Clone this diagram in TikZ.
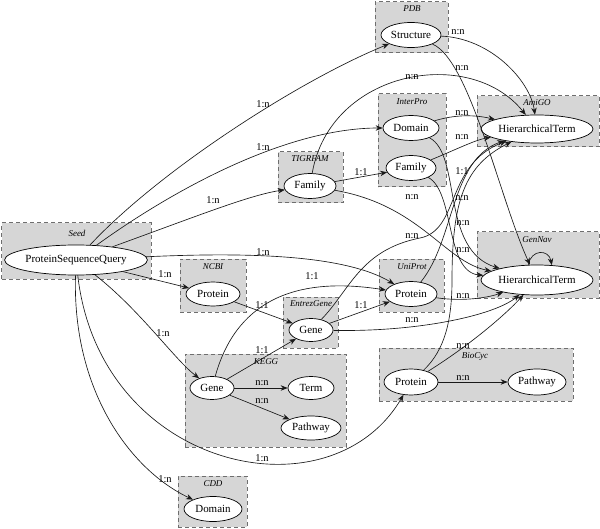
\documentclass[tikz,border=0pt]{standalone}
\usepackage{fontspec}
\setmainfont{Liberation Serif}
\usetikzlibrary{shapes.geometric,arrows.meta}
\definecolor{clfill}{HTML}{D6D6D6}
\definecolor{clline}{HTML}{6E6E6E}
\newcommand\myNodeFont{\fontsize{11}{13}\selectfont}
\newcommand\myLabFont{\fontsize{10.5}{12}\selectfont}
\newcommand\myClusFont{\fontsize{9}{10}\selectfont\itshape}
\tikzset{
  clus/.style={rectangle, draw=clline, fill=clfill, dash pattern=on 4bp off 3bp, line width=1bp, inner sep=0pt},
  clab/.style={font=\myClusFont, inner sep=0pt},
  ent/.style={ellipse, draw=black, fill=white, inner sep=0pt, line width=0.7bp, font=\myNodeFont},
  elab/.style={font=\myLabFont, inner sep=0pt},
  edge/.style={-{Stealth[length=7bp,width=5.5bp]}, line width=0.65bp, draw=black!90},
}
\begin{document}
\begin{tikzpicture}[x=1bp,y=-1bp]
\useasboundingbox (0,0) rectangle (600,529);
% clusters
\node[clus, minimum width=149bp, minimum height=56bp] (cseed) at (76.5,251) {};
\node[clab] (tseed) at (77,233) {Seed};
\node[clus, minimum width=73bp, minimum height=51bp] (cpdb) at (411.5,27.5) {};
\node[clab] (tpdb) at (412,9) {PDB};
\node[clus, minimum width=68bp, minimum height=93bp] (cip) at (412,140.5) {};
\node[clab] (tip) at (412,102) {InterPro};
\node[clus, minimum width=122bp, minimum height=51bp] (cami) at (538,121.5) {};
\node[clab] (tami) at (537,103) {AmiGO};
\node[clus, minimum width=65bp, minimum height=51bp] (ctig) at (310.5,177.5) {};
\node[clab] (ttig) at (310,159) {TIGRFAM};
\node[clus, minimum width=122bp, minimum height=66bp] (cgen) at (538,265) {};
\node[clab] (tgen) at (537,240) {GenNav};
\node[clus, minimum width=66bp, minimum height=53bp] (cncbi) at (213,285.5) {};
\node[clab] (tncbi) at (213,267) {NCBI};
\node[clus, minimum width=65bp, minimum height=53bp] (cuni) at (411.5,285.5) {};
\node[clab] (tuni) at (412,267) {UniProt};
\node[clus, minimum width=55bp, minimum height=51bp] (ceg) at (310.5,322.5) {};
\node[clab] (teg) at (311,304) {EntrezGene};
\node[clus, minimum width=161bp, minimum height=93bp] (ckegg) at (265.5,400.5) {};
\node[clab] (tkegg) at (266,362) {KEGG};
\node[clus, minimum width=194bp, minimum height=53bp] (cbio) at (476,374.5) {};
\node[clab] (tbio) at (475,356) {BioCyc};
\node[clus, minimum width=69bp, minimum height=51bp] (ccdd) at (212.5,501.5) {};
\node[clab] (tcdd) at (213,484) {CDD};
% entities
\node[ent, minimum width=140bp, minimum height=30bp] (psq) at (76,260) {ProteinSequenceQuery};
\node[ent, minimum width=60bp, minimum height=25bp] (struct) at (411,35) {Structure};
\node[ent, minimum width=56bp, minimum height=25bp] (ipdom) at (411,128) {Domain};
\node[ent, minimum width=50bp, minimum height=25bp] (ipfam) at (411,168) {Family};
\node[ent, minimum width=112bp, minimum height=28bp] (amiht) at (537,129) {HierarchicalTerm};
\node[ent, minimum width=52bp, minimum height=25bp] (tfam) at (310,186) {Family};
\node[ent, minimum width=112bp, minimum height=30bp] (genht) at (537,280) {HierarchicalTerm};
\node[ent, minimum width=54bp, minimum height=24bp] (ncbiprot) at (213,294) {Protein};
\node[ent, minimum width=52bp, minimum height=25bp] (uniprot) at (411,294) {Protein};
\node[ent, minimum width=44bp, minimum height=23bp] (egene) at (311,330) {Gene};
\node[ent, minimum width=44bp, minimum height=23bp] (kgene) at (212,388) {Gene};
\node[ent, minimum width=46bp, minimum height=23bp] (kterm) at (311,388) {Term};
\node[ent, minimum width=60bp, minimum height=24bp] (kpath) at (311,428) {Pathway};
\node[ent, minimum width=54bp, minimum height=26bp] (bprot) at (411,382) {Protein};
\node[ent, minimum width=58bp, minimum height=26bp] (bpath) at (537,382) {Pathway};
\node[ent, minimum width=58bp, minimum height=25bp] (cdddom) at (213,509) {Domain};
% edges from the seed
\draw[edge] (psq) .. controls (160,170) and (300,80) .. (struct);
\draw[edge] (psq) .. controls (180,185) and (290,128) .. (ipdom);
\draw[edge] (psq) .. controls (200,215) and (250,195) .. (tfam);
\draw[edge] (psq) .. controls (250,252) and (345,255) .. (uniprot);
\draw[edge] (psq) -- (ncbiprot);
\draw[edge] (psq) .. controls (140,310) and (175,360) .. (kgene);
\draw[edge] (psq) .. controls (100,470) and (330,520) .. (bprot);
\draw[edge] (psq) .. controls (72,390) and (130,470) .. (cdddom);
% other edges
\draw[edge] (tfam) -- (ipfam);
\draw[edge] (tfam) .. controls (330,70) and (470,45) .. (amiht);
\draw[edge] (tfam) .. controls (420,205) and (445,262) .. (genht);
\draw[edge] (struct) .. controls (490,38) and (530,80) .. (amiht);
\draw[edge] (struct) .. controls (470,60) and (500,200) .. (genht);
\draw[edge] (ipdom) .. controls (460,113) and (480,116) .. (amiht);
\draw[edge] (ipfam) .. controls (455,150) and (475,140) .. (amiht);
\draw[edge] (ipdom) .. controls (462,155) and (440,250) .. (genht);
\draw[edge] (ipfam) .. controls (455,192) and (445,272) .. (genht);
\draw[edge] (uniprot) .. controls (455,240) and (450,160) .. (amiht);
\draw[edge] (egene) .. controls (350,290) and (360,250) .. (420,238) .. controls (460,230) and (445,165) .. (amiht);
\draw[edge] (bprot) .. controls (445,350) and (452,320) .. (452,280) .. controls (452,200) and (465,165) .. (amiht);
\draw[edge] (uniprot) .. controls (465,302) and (490,297) .. (genht);
\draw[edge] (egene) .. controls (420,332) and (495,315) .. (genht);
\draw[edge] (bprot) .. controls (470,345) and (505,315) .. (genht);
\draw[edge] (bprot) -- (bpath);
\draw[edge] (genht.120) .. controls +(3,-16) and +(-3,-16) .. (genht.45);
\draw[edge] (kgene) .. controls (235,305) and (290,275) .. (uniprot);
\draw[edge] (egene) -- (uniprot);
\draw[edge] (ncbiprot) -- (egene);
\draw[edge] (kgene) -- (egene);
\draw[edge] (kgene) -- (kterm);
\draw[edge] (kgene) -- (kpath);
% edge labels
\node[elab] (a1) at (263,104) {1:n};
\node[elab] (a2) at (263,147) {1:n};
\node[elab] (a3) at (213,200) {1:n};
\node[elab] (a4) at (263,252) {1:n};
\node[elab] (a5) at (165,274) {1:n};
\node[elab] (a6) at (163,333) {1:n};
\node[elab] (a7) at (262,458) {1:n};
\node[elab] (a8) at (165,479) {1:n};
\node[elab] (b1) at (361,172) {1:1};
\node[elab] (b2) at (312,276) {1:1};
\node[elab] (b3) at (262,305) {1:1};
\node[elab] (b4) at (361,305) {1:1};
\node[elab] (b5) at (262,350) {1:1};
\node[elab] (b6) at (462,171) {1:1};
\node[elab] (c1) at (458,32) {n:n};
\node[elab] (c2) at (462,68) {n:n};
\node[elab] (c3) at (412,77) {n:n};
\node[elab] (c4) at (462,113) {n:n};
\node[elab] (c5) at (462,137) {n:n};
\node[elab] (c6) at (462,198) {n:n};
\node[elab] (c7) at (412,197) {n:n};
\node[elab] (c8) at (463,223) {n:n};
\node[elab] (c9) at (412,236) {n:n};
\node[elab] (c10) at (463,250) {n:n};
\node[elab] (c11) at (463,296) {n:n};
\node[elab] (c12) at (412,320) {n:n};
\node[elab] (c13) at (463,346) {n:n};
\node[elab] (c14) at (463,378) {n:n};
\node[elab] (c15) at (262,383) {n:n};
\node[elab] (c16) at (262,401) {n:n};
\end{tikzpicture}
\end{document}
